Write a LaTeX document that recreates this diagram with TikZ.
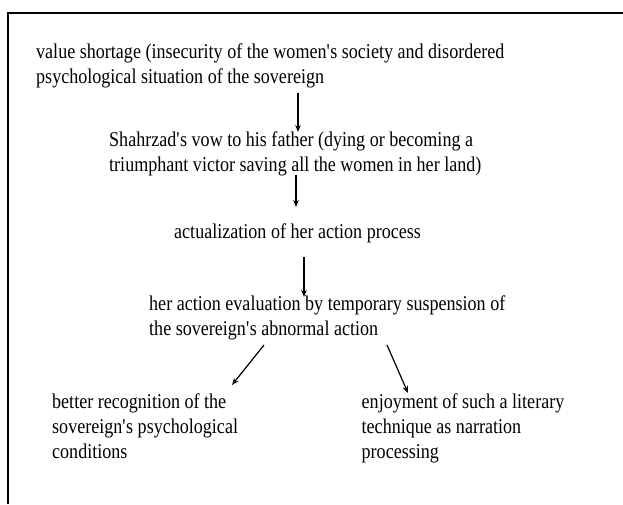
\documentclass[tikz,border=0pt]{standalone}
\usepackage{fontspec}
\setmainfont{Liberation Serif}[FakeStretch=0.86]
\usetikzlibrary{arrows.meta}
\newcommand{\apo}{\textquotesingle}
\begin{document}
\begin{tikzpicture}[x=1pt,y=1pt,
  txt/.style={anchor=base west, align=left, inner sep=0pt, font=\fontsize{21}{25}\selectfont},
  arr/.style={line width=1.2pt, -{Stealth[length=7pt,width=5.5pt]}},
  frame/.style={line width=2pt}]
\useasboundingbox (0,0) rectangle (623,-504);
\draw[frame] (8,-504) -- (8,-13) -- (623,-13);
% base anchor = baseline of the last line
\node[txt] (a) at (36,-83.5) {value shortage (insecurity of the women\apo s society and disordered\\psychological situation of the sovereign};
\node[txt] (b) at (109,-171.7) {Shahrzad\apo s vow to his father (dying or becoming a\\triumphant victor saving all the women in her land)};
\node[txt] (c) at (174,-238.3) {actualization of her action process};
\node[txt] (d) at (149,-335) {her action evaluation by temporary suspension of\\the sovereign\apo s abnormal action};
\node[txt] (e) at (52,-458) {better recognition of the\\sovereign\apo s psychological\\conditions};
\node[txt] (f) at (361.5,-458) {enjoyment of such a literary\\technique as narration\\processing};
\coordinate (a1) at (298,-93);
\coordinate (b0) at (298,-132);
\coordinate (b1) at (296,-175);
\coordinate (c0) at (296,-207);
\coordinate (c1) at (304,-257);
\coordinate (d0) at (304,-297);
\coordinate (d1) at (264,-345);
\coordinate (e0) at (232,-385);
\coordinate (d2) at (387,-345);
\coordinate (f0) at (408,-393);
\draw[arr] (a1) -- (b0);
\draw[arr] (b1) -- (c0);
\draw[arr] (c1) -- (d0);
\draw[arr] (d1) -- (e0);
\draw[arr] (d2) -- (f0);
\end{tikzpicture}
\end{document}
